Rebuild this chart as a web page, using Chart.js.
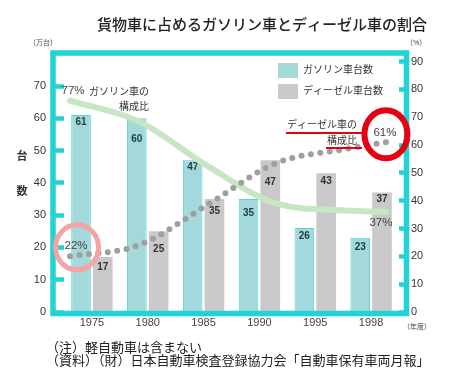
<!DOCTYPE html>
<html>
<head>
<meta charset="utf-8">
<script src="https://cdn.jsdelivr.net/npm/chart.js@4.4.1/dist/chart.umd.min.js"></script>
<style>
  html, body { margin: 0; padding: 0; background: #fff; }
  #wrap { width: 450px; height: 390px; position: relative; }
  #wrap canvas { position: absolute; left: 0; top: 0; }
</style>
</head>
<body>
<div id="wrap">
  <canvas id="bars" width="450" height="390"></canvas>
  <canvas id="shares" width="450" height="390"></canvas>
</div>
<script>
// Data
const years = ['1975', '1980', '1985', '1990', '1995', '1998'];
const gasolineUnits = [61, 60, 47, 35, 26, 23];   // 万台
const dieselUnits = [17, 25, 35, 47, 43, 37];     // 万台
const shareYears = [1975, 1980, 1985, 1990, 1995, 1998];
const gasolineShare = [76, 68.5, 52.5, 39, 36.5, 36]; // %
const dieselShare = [20, 24, 38.5, 53.5, 58.5, 61];   // %
const gasolineShareLabels = ['77%', '37%'];
const dieselShareLabels = ['22%', '61%'];
const unitTicks = [0, 10, 20, 30, 40, 50, 60, 70];
const shareTicks = [0, 10, 20, 30, 40, 50, 60, 70, 80, 90];

// how far below the bar top each value sits (px), moved down where a line crosses
const gasolineLabelDrop = [7, 21, 7, 14, 8, 9];
const dieselLabelDrop = [10, 18, 12, 22, 8, 7];

const FONT = "'Liberation Sans', 'Noto Sans CJK JP', sans-serif";
const CYAN = '#22d3d6';
const TEAL_FILL = '#a3d9da';
const GRAY_FILL = '#c9c9c9';
const GREEN_LINE = '#c6e6c4';
const DOT_LINE = '#9f9f9f';
const RED = '#e60012';

// both charts share this plot area: left 64, right 399, top 56, bottom 312
const UNIT_MAX = 79.3;
const SHARE_MAX = 92;

Chart.defaults.font.family = FONT;
Chart.defaults.color = '#333';

// frame, bar values, legend, title and notes
const barDecorations = {
  id: 'barDecorations',
  afterDatasetsDraw(chart) {
    const { ctx, chartArea: a } = chart;
    ctx.save();

    ctx.strokeStyle = CYAN;
    ctx.lineWidth = 5.5;
    ctx.strokeRect(a.left - 11, a.top - 3, a.right - a.left + 18.5, a.bottom - a.top + 4.5);

    ctx.textAlign = 'center';
    ctx.textBaseline = 'middle';
    ctx.font = 'bold 10px ' + FONT;
    [gasolineLabelDrop, dieselLabelDrop].forEach((drops, di) => {
      ctx.fillStyle = di === 0 ? '#1e3c3d' : '#333';
      chart.getDatasetMeta(di).data.forEach((bar, i) => {
        ctx.fillText(String(chart.data.datasets[di].data[i]), bar.x, bar.y + drops[i]);
      });
    });

    // legend
    ctx.font = '10px ' + FONT;
    ctx.textAlign = 'left';
    ctx.fillStyle = TEAL_FILL;
    ctx.fillRect(278, 63, 20, 15);
    ctx.fillStyle = GRAY_FILL;
    ctx.fillRect(278, 84, 20, 15);
    ctx.fillStyle = '#333';
    ctx.fillText(chart.data.datasets[0].label, 303, 70.5);
    ctx.fillText(chart.data.datasets[1].label, 303, 91.5);

    // title
    ctx.font = '500 15px ' + FONT;
    ctx.fillStyle = '#222';
    ctx.fillText('貨物車に占めるガソリン車とディーゼル車の割合', 97, 26);

    // axis captions
    ctx.font = '7px ' + FONT;
    ctx.fillStyle = '#444';
    ctx.fillText('（万台）', 29, 43);
    ctx.fillText('（%）', 406, 43);
    ctx.fillText('（年度）', 403, 327);
    ctx.font = 'bold 11px ' + FONT;
    ctx.fillStyle = '#333';
    ctx.textAlign = 'center';
    ctx.fillText('台', 22, 157);
    ctx.fillText('数', 22, 192);

    // notes
    ctx.font = '13px ' + FONT;
    ctx.textAlign = 'left';
    ctx.fillStyle = '#222';
    ctx.fillText('（注）軽自動車は含まない', 46, 348);
    ctx.fillText('（資料）（財）日本自動車検査登録協力会「自動車保有車両月報」', 46, 361);

    ctx.restore();
  }
};

// share labels, circles and captions
const shareDecorations = {
  id: 'shareDecorations',
  afterDatasetsDraw(chart) {
    const { ctx } = chart;
    const gas = chart.getDatasetMeta(0).data;
    const dsl = chart.getDatasetMeta(1).data;
    const gasEnd = gas[gas.length - 1];
    const dslEnd = dsl[dsl.length - 1];
    ctx.save();
    ctx.textAlign = 'center';
    ctx.textBaseline = 'middle';
    ctx.font = '11.5px ' + FONT;
    ctx.fillStyle = '#444';
    ctx.fillText(gasolineShareLabels[0], gas[0].x + 3, gas[0].y - 10);
    ctx.fillText(gasolineShareLabels[1], gasEnd.x - 5, gasEnd.y + 11);
    ctx.fillText(dieselShareLabels[0], dsl[0].x + 6, dsl[0].y - 11);
    ctx.fillText(dieselShareLabels[1], dslEnd.x - 1, dslEnd.y - 9);

    ctx.lineWidth = 5;
    ctx.strokeStyle = '#f5a3a3';
    ctx.beginPath();
    ctx.ellipse(dsl[0].x + 7, dsl[0].y - 9, 21.5, 22.5, 0, 0, Math.PI * 2);
    ctx.stroke();
    ctx.lineWidth = 6;
    ctx.strokeStyle = RED;
    ctx.beginPath();
    ctx.ellipse(dslEnd.x, dslEnd.y - 8, 21.5, 24, 0, 0, Math.PI * 2);
    ctx.stroke();

    ctx.fillStyle = '#333';
    ctx.font = '10px ' + FONT;
    ctx.textAlign = 'right';
    ctx.fillText('ガソリン車の', 149, 92);
    ctx.fillText('構成比', 149, 107);
    ctx.fillText('ディーゼル車の', 357, 125);
    ctx.fillText('構成比', 357, 141);
    ctx.strokeStyle = RED;
    ctx.lineWidth = 2.2;
    ctx.beginPath();
    ctx.moveTo(286, 133); ctx.lineTo(362, 133);
    ctx.moveTo(326, 148); ctx.lineTo(362, 148);
    ctx.stroke();
    ctx.restore();
  }
};

new Chart(document.getElementById('bars'), {
  type: 'bar',
  data: {
    labels: years,
    datasets: [
      {
        label: 'ガソリン車台数',
        data: gasolineUnits,
        backgroundColor: TEAL_FILL,
        borderColor: '#52d4d8',
        borderWidth: 1
      },
      {
        label: 'ディーゼル車台数',
        data: dieselUnits,
        backgroundColor: GRAY_FILL,
        borderWidth: 0
      }
    ]
  },
  options: {
    responsive: false,
    animation: false,
    layout: { padding: { top: 56, left: 0, right: 0, bottom: 0 } },
    plugins: {
      legend: { display: false },
      tooltip: { enabled: false }
    },
    datasets: {
      bar: { categoryPercentage: 0.78, barPercentage: 0.9 }
    },
    scales: {
      x: {
        grid: { display: false, drawTicks: false },
        border: { display: false },
        ticks: { padding: 4, color: '#444', font: { size: 11 } },
        afterFit: s => { s.height = 78; }
      },
      y: {
        position: 'left',
        min: 0,
        max: UNIT_MAX,
        grid: { drawOnChartArea: false, drawTicks: true, tickLength: 11, tickWidth: 4.5, color: CYAN },
        border: { display: false },
        ticks: { padding: 7, color: '#333', font: { size: 11 } },
        afterBuildTicks: s => { s.ticks = unitTicks.map(value => ({ value })); },
        afterFit: s => { s.width = 64; }
      },
      y1: {
        position: 'right',
        min: 0,
        max: SHARE_MAX,
        grid: { drawOnChartArea: false, drawTicks: true, tickLength: 8, tickWidth: 4.5, color: CYAN },
        border: { display: false },
        ticks: { padding: 4, color: '#333', font: { size: 11 } },
        afterBuildTicks: s => { s.ticks = shareTicks.map(value => ({ value })); },
        afterFit: s => { s.width = 51; }
      }
    }
  },
  plugins: [barDecorations]
});

// share lines on their own year axis, laid over the same plot area
new Chart(document.getElementById('shares'), {
  type: 'line',
  data: {
    datasets: [
      {
        label: 'ガソリン車の構成比',
        data: shareYears.map((x, i) => ({ x, y: gasolineShare[i] })),
        borderColor: GREEN_LINE,
        borderWidth: 6,
        borderCapStyle: 'round',
        cubicInterpolationMode: 'monotone',
        pointRadius: 0,
        order: 1
      },
      {
        label: 'ディーゼル車の構成比',
        data: shareYears.map((x, i) => ({ x, y: dieselShare[i] })),
        borderColor: DOT_LINE,
        borderWidth: 6,
        borderCapStyle: 'round',
        borderDash: [0, 9.5],
        cubicInterpolationMode: 'monotone',
        pointRadius: 0,
        order: 0
      }
    ]
  },
  options: {
    responsive: false,
    animation: false,
    layout: { padding: { top: 56, left: 64, right: 51, bottom: 78 } },
    plugins: {
      legend: { display: false },
      tooltip: { enabled: false }
    },
    scales: {
      x: { type: 'linear', display: false, offset: false, min: 1974.56, max: 1998.95 },
      y: { type: 'linear', display: false, min: 0, max: SHARE_MAX }
    }
  },
  plugins: [shareDecorations]
});
</script>
</body>
</html>
